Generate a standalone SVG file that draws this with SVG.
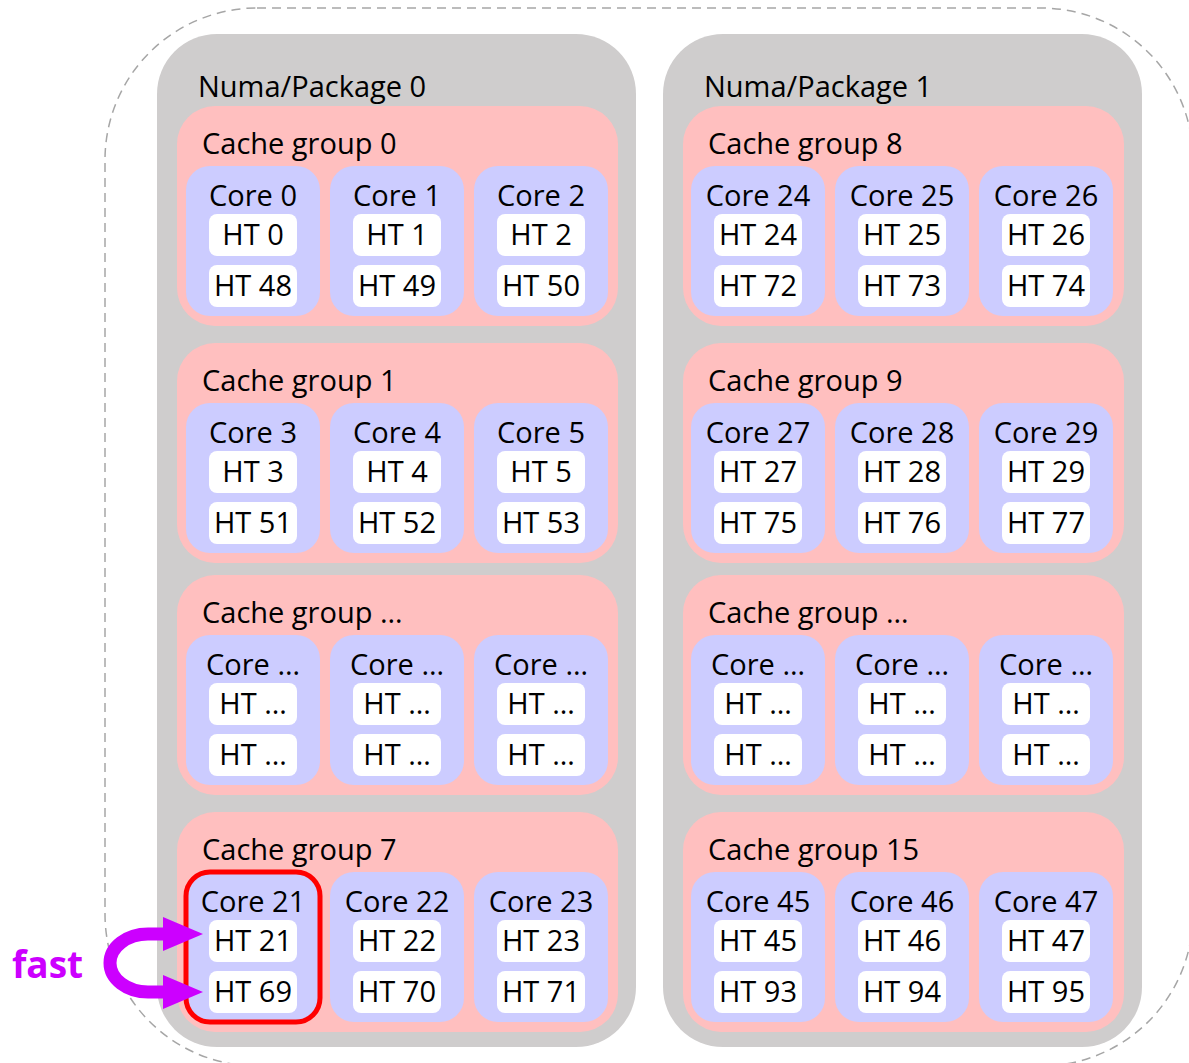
<svg xmlns="http://www.w3.org/2000/svg" width="1189" height="1063" viewBox="0 0 1189 1063">
<defs>
<style>
.pkg{fill:#CFCDCD}
.cg{fill:#FFBFBF}
.core{fill:#CCCCFF}
.ht{fill:#FFFFFF}
.t{font-family:"Open Sans","Liberation Sans",sans-serif;font-size:29px;fill:#000}
.m{text-anchor:middle}
.outer{fill:none;stroke:#A6A6A6;stroke-width:1.5;stroke-dasharray:9 6}
.hl{fill:none;stroke:#FF0000;stroke-width:5}
.fast{fill:none;stroke:#CC00FF;stroke-width:13}
</style>
<marker id="ah" markerUnits="userSpaceOnUse" markerWidth="42" markerHeight="36" refX="3" refY="17" orient="auto-start-reverse">
<path d="M0,0 L40,17 L0,34 z" fill="#CC00FF"/>
</marker>
</defs>
<rect id="system" class="outer" x="105" y="8" width="1088" height="1058" rx="152"/>

<g id="pkg0">
<rect class="pkg" x="157" y="34" width="479" height="1013" rx="60"/>
<text class="t" x="198" y="97">Numa/Package 0</text>

<g id="cg0">
<rect class="cg" x="177" y="106" width="441" height="220" rx="38"/>
<text class="t" x="202" y="154">Cache group 0</text>
<g id="core0"><rect class="core" x="186" y="166" width="134" height="150" rx="24"/><text class="t m" x="253" y="206">Core 0</text>
<g id="ht0"><rect class="ht" x="209" y="214" width="88" height="42" rx="8"/><text class="t m" x="253" y="245">HT 0</text></g>
<g id="ht48"><rect class="ht" x="209" y="265" width="88" height="42" rx="8"/><text class="t m" x="253" y="296">HT 48</text></g></g>
<g id="core1"><rect class="core" x="330" y="166" width="134" height="150" rx="24"/><text class="t m" x="397" y="206">Core 1</text>
<g id="ht1"><rect class="ht" x="353" y="214" width="88" height="42" rx="8"/><text class="t m" x="397" y="245">HT 1</text></g>
<g id="ht49"><rect class="ht" x="353" y="265" width="88" height="42" rx="8"/><text class="t m" x="397" y="296">HT 49</text></g></g>
<g id="core2"><rect class="core" x="474" y="166" width="134" height="150" rx="24"/><text class="t m" x="541" y="206">Core 2</text>
<g id="ht2"><rect class="ht" x="497" y="214" width="88" height="42" rx="8"/><text class="t m" x="541" y="245">HT 2</text></g>
<g id="ht50"><rect class="ht" x="497" y="265" width="88" height="42" rx="8"/><text class="t m" x="541" y="296">HT 50</text></g></g>
</g>

<g id="cg1">
<rect class="cg" x="177" y="343" width="441" height="220" rx="38"/>
<text class="t" x="202" y="391">Cache group 1</text>
<g id="core3"><rect class="core" x="186" y="403" width="134" height="150" rx="24"/><text class="t m" x="253" y="443">Core 3</text>
<g id="ht3"><rect class="ht" x="209" y="451" width="88" height="42" rx="8"/><text class="t m" x="253" y="482">HT 3</text></g>
<g id="ht51"><rect class="ht" x="209" y="502" width="88" height="42" rx="8"/><text class="t m" x="253" y="533">HT 51</text></g></g>
<g id="core4"><rect class="core" x="330" y="403" width="134" height="150" rx="24"/><text class="t m" x="397" y="443">Core 4</text>
<g id="ht4"><rect class="ht" x="353" y="451" width="88" height="42" rx="8"/><text class="t m" x="397" y="482">HT 4</text></g>
<g id="ht52"><rect class="ht" x="353" y="502" width="88" height="42" rx="8"/><text class="t m" x="397" y="533">HT 52</text></g></g>
<g id="core5"><rect class="core" x="474" y="403" width="134" height="150" rx="24"/><text class="t m" x="541" y="443">Core 5</text>
<g id="ht5"><rect class="ht" x="497" y="451" width="88" height="42" rx="8"/><text class="t m" x="541" y="482">HT 5</text></g>
<g id="ht53"><rect class="ht" x="497" y="502" width="88" height="42" rx="8"/><text class="t m" x="541" y="533">HT 53</text></g></g>
</g>

<g id="cg_p0_more">
<rect class="cg" x="177" y="575" width="441" height="220" rx="38"/>
<text class="t" x="202" y="623">Cache group …</text>
<g id="core_p0_a"><rect class="core" x="186" y="635" width="134" height="150" rx="24"/><text class="t m" x="253" y="675">Core …</text>
<g id="ht_p0_a1"><rect class="ht" x="209" y="683" width="88" height="42" rx="8"/><text class="t m" x="253" y="714">HT …</text></g>
<g id="ht_p0_a2"><rect class="ht" x="209" y="734" width="88" height="42" rx="8"/><text class="t m" x="253" y="765">HT …</text></g></g>
<g id="core_p0_b"><rect class="core" x="330" y="635" width="134" height="150" rx="24"/><text class="t m" x="397" y="675">Core …</text>
<g id="ht_p0_b1"><rect class="ht" x="353" y="683" width="88" height="42" rx="8"/><text class="t m" x="397" y="714">HT …</text></g>
<g id="ht_p0_b2"><rect class="ht" x="353" y="734" width="88" height="42" rx="8"/><text class="t m" x="397" y="765">HT …</text></g></g>
<g id="core_p0_c"><rect class="core" x="474" y="635" width="134" height="150" rx="24"/><text class="t m" x="541" y="675">Core …</text>
<g id="ht_p0_c1"><rect class="ht" x="497" y="683" width="88" height="42" rx="8"/><text class="t m" x="541" y="714">HT …</text></g>
<g id="ht_p0_c2"><rect class="ht" x="497" y="734" width="88" height="42" rx="8"/><text class="t m" x="541" y="765">HT …</text></g></g>
</g>

<g id="cg7">
<rect class="cg" x="177" y="812" width="441" height="220" rx="38"/>
<text class="t" x="202" y="860">Cache group 7</text>
<g id="core21"><rect class="core" x="186" y="872" width="134" height="150" rx="24"/><text class="t m" x="253" y="912">Core 21</text>
<g id="ht21"><rect class="ht" x="209" y="920" width="88" height="42" rx="8"/><text class="t m" x="253" y="951">HT 21</text></g>
<g id="ht69"><rect class="ht" x="209" y="971" width="88" height="42" rx="8"/><text class="t m" x="253" y="1002">HT 69</text></g>
<rect class="hl" x="186" y="872" width="134" height="150" rx="24"/></g>
<g id="core22"><rect class="core" x="330" y="872" width="134" height="150" rx="24"/><text class="t m" x="397" y="912">Core 22</text>
<g id="ht22"><rect class="ht" x="353" y="920" width="88" height="42" rx="8"/><text class="t m" x="397" y="951">HT 22</text></g>
<g id="ht70"><rect class="ht" x="353" y="971" width="88" height="42" rx="8"/><text class="t m" x="397" y="1002">HT 70</text></g></g>
<g id="core23"><rect class="core" x="474" y="872" width="134" height="150" rx="24"/><text class="t m" x="541" y="912">Core 23</text>
<g id="ht23"><rect class="ht" x="497" y="920" width="88" height="42" rx="8"/><text class="t m" x="541" y="951">HT 23</text></g>
<g id="ht71"><rect class="ht" x="497" y="971" width="88" height="42" rx="8"/><text class="t m" x="541" y="1002">HT 71</text></g></g>
</g>
</g>

<g id="pkg1">
<rect class="pkg" x="663" y="34" width="479" height="1013" rx="60"/>
<text class="t" x="704" y="97">Numa/Package 1</text>

<g id="cg8">
<rect class="cg" x="683" y="106" width="441" height="220" rx="38"/>
<text class="t" x="708" y="154">Cache group 8</text>
<g id="core24"><rect class="core" x="691" y="166" width="134" height="150" rx="24"/><text class="t m" x="758" y="206">Core 24</text>
<g id="ht24"><rect class="ht" x="714" y="214" width="88" height="42" rx="8"/><text class="t m" x="758" y="245">HT 24</text></g>
<g id="ht72"><rect class="ht" x="714" y="265" width="88" height="42" rx="8"/><text class="t m" x="758" y="296">HT 72</text></g></g>
<g id="core25"><rect class="core" x="835" y="166" width="134" height="150" rx="24"/><text class="t m" x="902" y="206">Core 25</text>
<g id="ht25"><rect class="ht" x="858" y="214" width="88" height="42" rx="8"/><text class="t m" x="902" y="245">HT 25</text></g>
<g id="ht73"><rect class="ht" x="858" y="265" width="88" height="42" rx="8"/><text class="t m" x="902" y="296">HT 73</text></g></g>
<g id="core26"><rect class="core" x="979" y="166" width="134" height="150" rx="24"/><text class="t m" x="1046" y="206">Core 26</text>
<g id="ht26"><rect class="ht" x="1002" y="214" width="88" height="42" rx="8"/><text class="t m" x="1046" y="245">HT 26</text></g>
<g id="ht74"><rect class="ht" x="1002" y="265" width="88" height="42" rx="8"/><text class="t m" x="1046" y="296">HT 74</text></g></g>
</g>

<g id="cg9">
<rect class="cg" x="683" y="343" width="441" height="220" rx="38"/>
<text class="t" x="708" y="391">Cache group 9</text>
<g id="core27"><rect class="core" x="691" y="403" width="134" height="150" rx="24"/><text class="t m" x="758" y="443">Core 27</text>
<g id="ht27"><rect class="ht" x="714" y="451" width="88" height="42" rx="8"/><text class="t m" x="758" y="482">HT 27</text></g>
<g id="ht75"><rect class="ht" x="714" y="502" width="88" height="42" rx="8"/><text class="t m" x="758" y="533">HT 75</text></g></g>
<g id="core28"><rect class="core" x="835" y="403" width="134" height="150" rx="24"/><text class="t m" x="902" y="443">Core 28</text>
<g id="ht28"><rect class="ht" x="858" y="451" width="88" height="42" rx="8"/><text class="t m" x="902" y="482">HT 28</text></g>
<g id="ht76"><rect class="ht" x="858" y="502" width="88" height="42" rx="8"/><text class="t m" x="902" y="533">HT 76</text></g></g>
<g id="core29"><rect class="core" x="979" y="403" width="134" height="150" rx="24"/><text class="t m" x="1046" y="443">Core 29</text>
<g id="ht29"><rect class="ht" x="1002" y="451" width="88" height="42" rx="8"/><text class="t m" x="1046" y="482">HT 29</text></g>
<g id="ht77"><rect class="ht" x="1002" y="502" width="88" height="42" rx="8"/><text class="t m" x="1046" y="533">HT 77</text></g></g>
</g>

<g id="cg_p1_more">
<rect class="cg" x="683" y="575" width="441" height="220" rx="38"/>
<text class="t" x="708" y="623">Cache group …</text>
<g id="core_p1_a"><rect class="core" x="691" y="635" width="134" height="150" rx="24"/><text class="t m" x="758" y="675">Core …</text>
<g id="ht_p1_a1"><rect class="ht" x="714" y="683" width="88" height="42" rx="8"/><text class="t m" x="758" y="714">HT …</text></g>
<g id="ht_p1_a2"><rect class="ht" x="714" y="734" width="88" height="42" rx="8"/><text class="t m" x="758" y="765">HT …</text></g></g>
<g id="core_p1_b"><rect class="core" x="835" y="635" width="134" height="150" rx="24"/><text class="t m" x="902" y="675">Core …</text>
<g id="ht_p1_b1"><rect class="ht" x="858" y="683" width="88" height="42" rx="8"/><text class="t m" x="902" y="714">HT …</text></g>
<g id="ht_p1_b2"><rect class="ht" x="858" y="734" width="88" height="42" rx="8"/><text class="t m" x="902" y="765">HT …</text></g></g>
<g id="core_p1_c"><rect class="core" x="979" y="635" width="134" height="150" rx="24"/><text class="t m" x="1046" y="675">Core …</text>
<g id="ht_p1_c1"><rect class="ht" x="1002" y="683" width="88" height="42" rx="8"/><text class="t m" x="1046" y="714">HT …</text></g>
<g id="ht_p1_c2"><rect class="ht" x="1002" y="734" width="88" height="42" rx="8"/><text class="t m" x="1046" y="765">HT …</text></g></g>
</g>

<g id="cg15">
<rect class="cg" x="683" y="812" width="441" height="220" rx="38"/>
<text class="t" x="708" y="860">Cache group 15</text>
<g id="core45"><rect class="core" x="691" y="872" width="134" height="150" rx="24"/><text class="t m" x="758" y="912">Core 45</text>
<g id="ht45"><rect class="ht" x="714" y="920" width="88" height="42" rx="8"/><text class="t m" x="758" y="951">HT 45</text></g>
<g id="ht93"><rect class="ht" x="714" y="971" width="88" height="42" rx="8"/><text class="t m" x="758" y="1002">HT 93</text></g></g>
<g id="core46"><rect class="core" x="835" y="872" width="134" height="150" rx="24"/><text class="t m" x="902" y="912">Core 46</text>
<g id="ht46"><rect class="ht" x="858" y="920" width="88" height="42" rx="8"/><text class="t m" x="902" y="951">HT 46</text></g>
<g id="ht94"><rect class="ht" x="858" y="971" width="88" height="42" rx="8"/><text class="t m" x="902" y="1002">HT 94</text></g></g>
<g id="core47"><rect class="core" x="979" y="872" width="134" height="150" rx="24"/><text class="t m" x="1046" y="912">Core 47</text>
<g id="ht47"><rect class="ht" x="1002" y="920" width="88" height="42" rx="8"/><text class="t m" x="1046" y="951">HT 47</text></g>
<g id="ht95"><rect class="ht" x="1002" y="971" width="88" height="42" rx="8"/><text class="t m" x="1046" y="1002">HT 95</text></g></g>
</g>
</g>

<g id="connectors">
<path class="fast" d="M166,934 L148,934 A38,29 0 0 0 148,992 L166,992" marker-start="url(#ah)" marker-end="url(#ah)"/>
</g>
<g id="fast-label">
<text x="12" y="978" style="font-family:'Open Sans','Liberation Sans',sans-serif;font-size:37px;font-weight:bold;fill:#CC00FF">fast</text>
</g>
</svg>
